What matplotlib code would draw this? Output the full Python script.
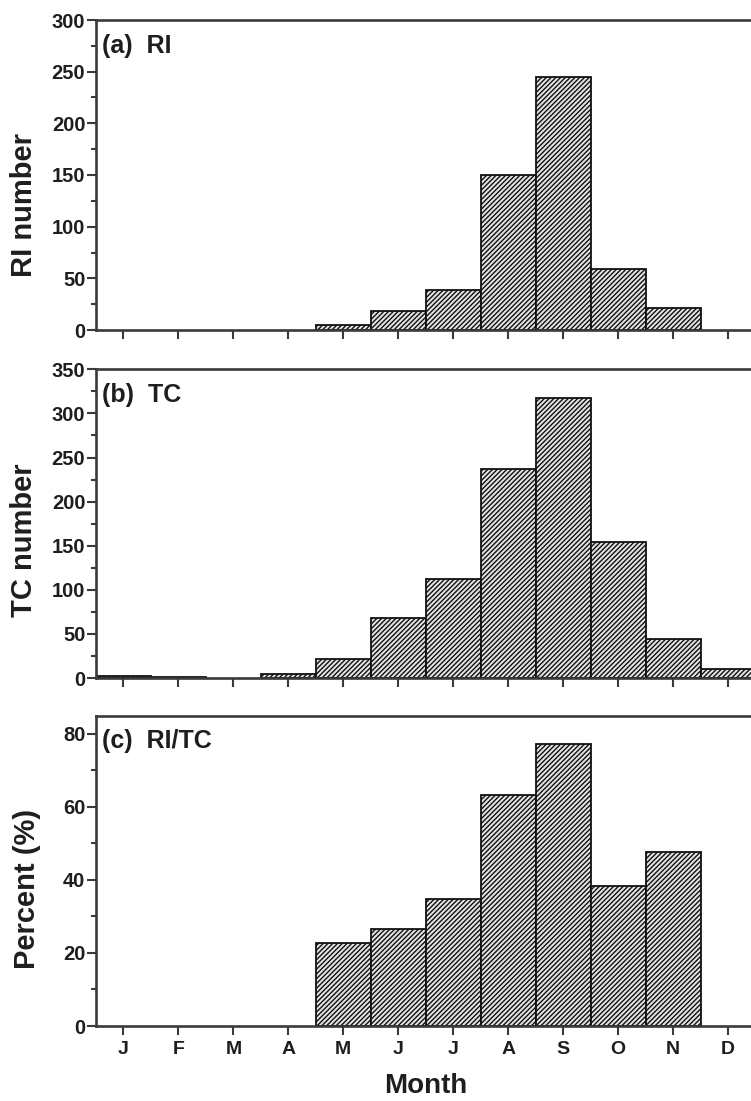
import matplotlib
matplotlib.use("Agg")
import matplotlib.pyplot as plt
from matplotlib.ticker import MultipleLocator

plt.rcParams["font.family"] = ["Liberation Sans", "DejaVu Sans"]
plt.rcParams["font.weight"] = "bold"
plt.rcParams["hatch.linewidth"] = 1.0

# data
months = [1, 2, 3, 4, 5, 6, 7, 8, 9, 10, 11, 12]
month_labels = ["J", "F", "M", "A", "M", "J", "J", "A", "S", "O", "N", "D"]
ri_count = [0, 0, 0, 0, 5, 18, 39, 150, 245, 59, 21, 0]
tc_count = [2, 1, 0, 5, 22, 68, 112, 237, 317, 154, 44, 10]
ri_tc_pct = [0, 0, 0, 0, 22.7, 26.5, 34.8, 63.3, 77.3, 38.4, 47.7, 0]

W, H = 751, 1101
fig = plt.figure(figsize=(W / 100, H / 100), dpi=100)

spine_col = "#3a3a3a"
text_col = "#1e1e1e"


def px_axes(top, bottom, left=96, right=755.5):
    return [left / W, (H - bottom) / H, (right - left) / W, (bottom - top) / H]


panels = [
    dict(rect=px_axes(20, 330), vals=ri_count, ylim=(0, 300), major=50, minor=25,
         tag="(a)  RI", ylabel="RI number", ly=205, lx=24, xlabels=False),
    dict(rect=px_axes(369.3, 678), vals=tc_count, ylim=(0, 350), major=50, minor=25,
         tag="(b)  TC", ylabel="TC number", ly=540, lx=24, xlabels=False),
    dict(rect=px_axes(715.7, 1026), vals=ri_tc_pct, ylim=(0, 85), major=20, minor=10,
         tag="(c)  RI/TC", ylabel="Percent (%)", ly=889, lx=27, xlabels=True),
]

for p in panels:
    ax = fig.add_axes(p["rect"])
    vals = p["vals"]
    xs = [m for m, v in zip(months, vals) if v > 0]
    hs = [v for v in vals if v > 0]
    ax.bar(xs, hs, width=1.0, color="#e4e4e4", edgecolor="#111111",
           linewidth=1.3, hatch="///////", zorder=2)

    ax.set_xlim(0.5, 12.5)
    ax.set_ylim(*p["ylim"])
    ax.set_xticks(months)
    if p["xlabels"]:
        ax.set_xticklabels(month_labels, fontsize=14, fontweight="bold", color=text_col)
    else:
        ax.set_xticklabels([])
    ax.yaxis.set_major_locator(MultipleLocator(p["major"]))
    ax.yaxis.set_minor_locator(MultipleLocator(p["minor"]))
    for lab in ax.get_yticklabels():
        lab.set_fontsize(14.5)
        lab.set_fontweight("bold")
        lab.set_color(text_col)

    for s in ax.spines.values():
        s.set_color(spine_col)
        s.set_linewidth(1.9)
    ax.tick_params(axis="both", which="major", direction="out", length=6.5,
                   width=1.5, color=spine_col, pad=1.2)
    ax.tick_params(axis="y", which="minor", direction="out", length=3.5,
                   width=1.5, color=spine_col)
    ax.tick_params(axis="x", which="major", pad=4.5)
    ax.tick_params(top=False, right=False)

    ax.text(0.0086, 0.895, p["tag"], transform=ax.transAxes, ha="left",
            va="baseline", fontsize=18, fontweight="bold", color=text_col)
    fig.text(p["lx"] / W, (H - p["ly"]) / H, p["ylabel"], rotation=90,
             ha="center", va="center", fontsize=21, fontweight="bold", color=text_col)

fig.text(425.75 / W, (H - 1093) / H, "Month", ha="center", va="baseline",
         fontsize=20, fontweight="bold", color=text_col)

fig.savefig("out.png", dpi=100)
